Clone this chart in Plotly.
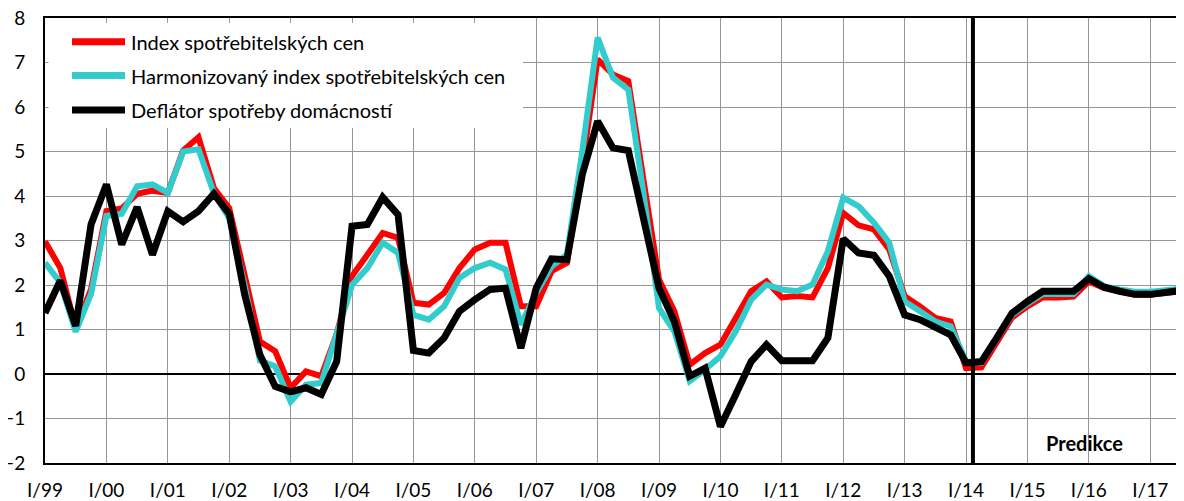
import plotly.graph_objects as go

# Quarter labels I/99 ... IV/17
roman = ["I", "II", "III", "IV"]
quarters = [f"{r}/{y % 100:02d}" for y in range(1999, 2018) for r in roman]
tick_labels = [q for q in quarters if q.startswith("I/")]

cpi = [2.98, 2.38, 1.03, 1.9, 3.66, 3.72, 4.05, 4.12, 4.07, 5.02, 5.32, 4.18,
       3.73, 2.2, 0.73, 0.51, -0.31, 0.06, -0.05, 0.9, 2.2, 2.68, 3.17, 3.06,
       1.6, 1.56, 1.82, 2.38, 2.8, 2.95, 2.95, 1.52, 1.52, 2.31, 2.5, 4.7,
       7.07, 6.73, 6.58, 4.33, 2.12, 1.41, 0.21, 0.47, 0.66, 1.26, 1.86, 2.08,
       1.72, 1.75, 1.72, 2.38, 3.62, 3.34, 3.25, 2.8, 1.75, 1.52, 1.26, 1.18,
       0.13, 0.15, 0.7, 1.27, 1.52, 1.72, 1.72, 1.74, 2.08, 1.93, 1.86, 1.78,
       1.78, 1.82, 1.87, 1.9]

hicp = [2.5, 2.05, 0.95, 1.8, 3.55, 3.6, 4.22, 4.26, 4.07, 5.0, 5.05, 4.07,
        3.5, 2.0, 0.3, 0.17, -0.62, -0.24, -0.2, 0.85, 2.0, 2.38, 2.95, 2.72,
        1.33, 1.22, 1.52, 2.16, 2.38, 2.5, 2.35, 1.11, 1.82, 2.42, 2.68, 5.0,
        7.56, 6.66, 6.39, 4.03, 1.48, 0.96, -0.16, 0.1, 0.4, 0.96, 1.67, 2.01,
        1.9, 1.86, 2.01, 2.76, 3.96, 3.77, 3.4, 2.95, 1.63, 1.41, 1.18, 1.07,
        0.28, 0.25, 0.78, 1.33, 1.58, 1.8, 1.8, 1.8, 2.2, 1.97, 1.9, 1.85,
        1.85, 1.88, 1.93, 1.95]

deflator = [1.37, 2.1, 1.08, 3.36, 4.26, 2.91, 3.75, 2.68, 3.66, 3.42, 3.66, 4.05,
            3.6, 1.8, 0.43, -0.28, -0.4, -0.31, -0.46, 0.28, 3.32, 3.36, 3.97, 3.58,
            0.53, 0.47, 0.81, 1.41, 1.67, 1.9, 1.93, 0.58, 1.93, 2.59, 2.57, 4.48,
            5.68, 5.08, 5.02, 3.5, 1.93, 1.18, -0.05, 0.13, -1.18, -0.46, 0.28, 0.66,
            0.3, 0.3, 0.3, 0.81, 3.04, 2.72, 2.67, 2.2, 1.33, 1.22, 1.03, 0.88,
            0.25, 0.28, 0.81, 1.37, 1.63, 1.86, 1.86, 1.86, 2.14, 1.95, 1.86, 1.79,
            1.79, 1.83, 1.88, 1.92]

series_names = ["Index spotřebitelských cen",
                "Harmonizovaný index spotřebitelských cen",
                "Deflátor spotřeby domácností"]
series_colors = ["#FF0000", "#33CCCC", "#000000"]
series_widths = [6, 6, 7]
series_values = [cpi, hicp, deflator]

forecast_start = quarters.index("I/14") + 0.45
FONT = "Lato"

fig = go.Figure()
for name, vals, col, w in zip(series_names, series_values, series_colors, series_widths):
    fig.add_trace(go.Scatter(x=quarters, y=vals, mode="lines", name=name,
                             line=dict(color=col, width=w), showlegend=False))

# page is rendered with an 8px body margin; compensate so the plot lands in place
OFF = 8
W, H = 1184, 501
plot_left, plot_right, plot_top, plot_bottom = 45, 1184, 18, 462.7  # page pixels
ml = plot_left - OFF
mt = plot_top - OFF
mr = W - (plot_right - OFF)
mb = H - (plot_bottom - OFF)
pw = plot_right - plot_left
ph = plot_bottom - plot_top

def px(x):
    return (x - plot_left) / pw

def py(y):
    return 1 - (y - plot_top) / ph

shapes = []
annotations = []
# legend box
shapes.append(dict(type="rect", xref="paper", yref="paper",
                   x0=px(48.5), x1=px(523), y0=py(128), y1=py(23),
                   fillcolor="white", line=dict(width=0), layer="above"))
rows = [41.7, 75.5, 110]
for name, col, yrow in zip(series_names, series_colors, rows):
    shapes.append(dict(type="line", xref="paper", yref="paper",
                       x0=px(72), x1=px(125), y0=py(yrow), y1=py(yrow),
                       line=dict(color=col, width=7), layer="above"))
    annotations.append(dict(text=name, xref="paper", yref="paper",
                            x=px(129), y=py(yrow), xanchor="left", yanchor="middle",
                            showarrow=False, font=dict(family=FONT, size=20, color="black")))
# forecast divider
shapes.append(dict(type="line", xref="x", yref="paper", x0=forecast_start, x1=forecast_start,
                   y0=0, y1=1, line=dict(color="black", width=4), layer="above"))
annotations.append(dict(text="<b>Predikce</b>", xref="paper", yref="paper",
                        x=px(1084), y=py(443), xanchor="center", yanchor="middle",
                        showarrow=False, font=dict(family=FONT, size=20, color="black")))

fig.update_layout(
    width=W, height=H,
    margin=dict(l=ml, r=mr, t=mt, b=mb, autoexpand=False),
    plot_bgcolor="white", paper_bgcolor="white",
    font=dict(family=FONT, size=18, color="black"),
    shapes=shapes, annotations=annotations,
    xaxis=dict(type="category", categoryorder="array", categoryarray=quarters,
               range=[0, 74.2], tickmode="array", tickvals=tick_labels, ticktext=tick_labels,
               showgrid=True, gridcolor="#969696", gridwidth=1.3,
               showline=True, linecolor="black", linewidth=2, mirror=True,
               ticks="outside", ticklen=9, tickcolor="rgba(0,0,0,0)",
               ticklabeloverflow="allow",
               tickfont=dict(family=FONT, size=19, color="black"), zeroline=False),
    yaxis=dict(range=[-2, 8], dtick=1, tick0=0,
               showgrid=True, gridcolor="#969696", gridwidth=1.3,
               zeroline=True, zerolinecolor="black", zerolinewidth=1.6,
               showline=True, linecolor="black", linewidth=2,
               ticks="outside", ticklen=14, tickcolor="rgba(0,0,0,0)",
               ticklabeloverflow="allow",
               tickfont=dict(family=FONT, size=19, color="black")),
)

fig.write_html("out.html")
